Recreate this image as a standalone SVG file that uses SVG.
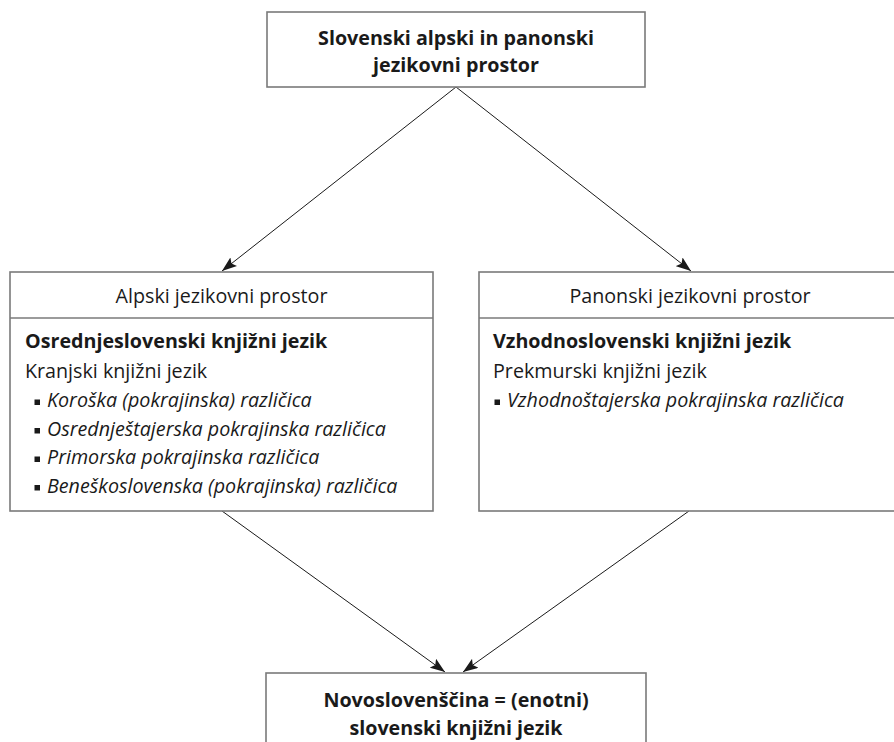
<svg xmlns="http://www.w3.org/2000/svg" width="894" height="742" viewBox="0 0 894 742">
<style>
.box{fill:#fff;stroke:#7a7a7a;stroke-width:1.6}
.t{font-family:"Open Sans","Noto Sans","Liberation Sans",sans-serif;fill:#1a1a1a;font-size:19.7px}
.b{font-weight:bold}
.i{font-style:italic}
.c{text-anchor:middle}
.con{stroke:#1a1a1a;stroke-width:1;fill:none;marker-end:url(#ah)}
.sq{fill:#1a1a1a}
</style>
<defs>
<marker id="ah" viewBox="0 0 15 11" refX="15" refY="5.5" markerWidth="15" markerHeight="11" markerUnits="userSpaceOnUse" orient="auto">
<path d="M0,0 L15,5.5 L0,11 L3,5.5 Z" fill="#1a1a1a"/>
</marker>
</defs>
<g id="connectors">
<line class="con" x1="456" y1="87" x2="222" y2="271"/>
<line class="con" x1="456" y1="87" x2="691" y2="271"/>
<line class="con" x1="222" y1="511" x2="445" y2="672"/>
<line class="con" x1="689" y1="511" x2="463" y2="672"/>
</g>
<g id="top">
<rect class="box" x="267" y="12" width="378" height="75"/>
<text class="t b c" x="456" y="45">Slovenski alpski in panonski</text>
<text class="t b c" x="456" y="72">jezikovni prostor</text>
</g>
<g id="alpski">
<rect class="box" x="10" y="272" width="423" height="239"/>
<line class="box" x1="10" y1="318" x2="433" y2="318"/>
<text class="t c" x="221.5" y="303">Alpski jezikovni prostor</text>
<text class="t b" x="25" y="348">Osrednjeslovenski knjižni jezik</text>
<text class="t" x="25" y="378">Kranjski knjižni jezik</text>
<rect class="sq" x="34.5" y="399.5" width="5.5" height="5.5"/>
<text class="t i" x="47" y="407">Koroška (pokrajinska) različica</text>
<rect class="sq" x="34.5" y="428" width="5.5" height="5.5"/>
<text class="t i" x="47" y="435.5">Osrednještajerska pokrajinska različica</text>
<rect class="sq" x="34.5" y="456.5" width="5.5" height="5.5"/>
<text class="t i" x="47" y="464">Primorska pokrajinska različica</text>
<rect class="sq" x="34.5" y="485" width="5.5" height="5.5"/>
<text class="t i" x="47" y="492.5">Beneškoslovenska (pokrajinska) različica</text>
</g>
<g id="panonski">
<rect class="box" x="479" y="272" width="422" height="239"/>
<line class="box" x1="479" y1="318" x2="901" y2="318"/>
<text class="t c" x="690" y="303">Panonski jezikovni prostor</text>
<text class="t b" x="493" y="348">Vzhodnoslovenski knjižni jezik</text>
<text class="t" x="493" y="378">Prekmurski knjižni jezik</text>
<rect class="sq" x="494.5" y="399.5" width="5.5" height="5.5"/>
<text class="t i" x="507" y="407">Vzhodnoštajerska pokrajinska različica</text>
</g>
<g id="novo">
<rect class="box" x="266" y="673" width="380" height="90"/>
<text class="t b c" x="456" y="707">Novoslovenščina = (enotni)</text>
<text class="t b c" x="456" y="735">slovenski knjižni jezik</text>
</g>
</svg>
